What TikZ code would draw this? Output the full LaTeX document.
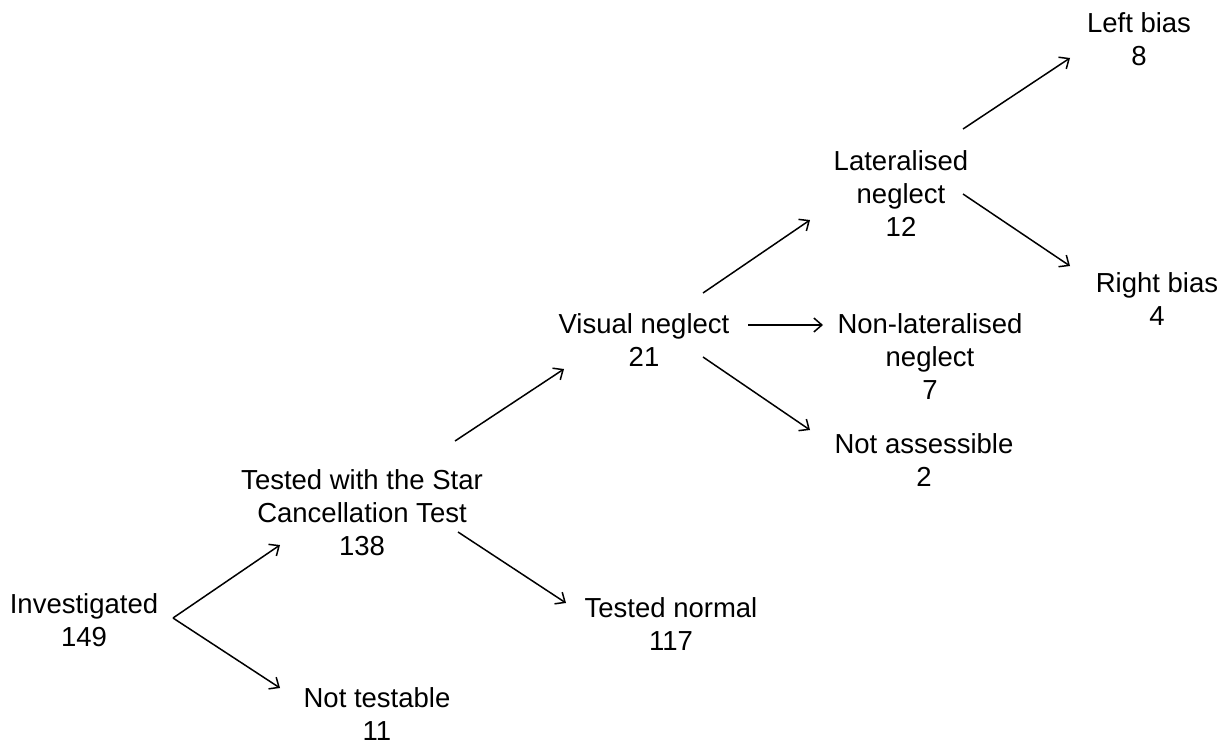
\documentclass[tikz,border=0pt]{standalone}
\usepackage{fontspec}
\setmainfont{Liberation Sans}
\usetikzlibrary{arrows.meta}
\tikzset{
  lbl/.style={anchor=base, inner sep=0pt, font=\fontsize{27.5}{33}\selectfont},
  arr/.style={-{Straight Barb[length=8pt,width=14pt]}, line width=1.5pt},
}
\newcommand{\stacklines}[1]{\begin{tabular}[t]{@{}c@{}}#1\end{tabular}}
\begin{document}
\begin{tikzpicture}[x=1pt,y=-1pt]
\useasboundingbox (0,0) rectangle (1229,744);
% text blocks
\node[lbl] (inv) at (84,613) {\stacklines{Investigated\\149}};
\node[lbl] (tst) at (362,489) {\stacklines{Tested with the Star\\Cancellation Test\\138}};
\node[lbl] (nt)  at (377,707) {\stacklines{Not testable\\11}};
\node[lbl] (tn)  at (671,617) {\stacklines{Tested normal\\117}};
\node[lbl] (vn)  at (644,333) {\stacklines{Visual neglect\\21}};
\node[lbl] (nl)  at (930,333) {\stacklines{Non-lateralised\\neglect\\7}};
\node[lbl] (na)  at (924,453) {\stacklines{Not assessible\\2}};
\node[lbl] (lat) at (901,170) {\stacklines{Lateralised\\neglect\\12}};
\node[lbl] (lb)  at (1139,32) {\stacklines{Left bias\\8}};
\node[lbl] (rb)  at (1157,292) {\stacklines{Right bias\\4}};
% connector ends
\coordinate (invOut) at (173,618);
\coordinate (tstIn)  at (280,545);
\coordinate (ntIn)   at (280,688);
\coordinate (tstUp)  at (455,441);
\coordinate (vnIn)   at (564,369);
\coordinate (tstDn)  at (458,532);
\coordinate (tnIn)   at (566,603);
\coordinate (vnUp)   at (703,293);
\coordinate (latIn)  at (810,220);
\coordinate (vnRt)   at (748,325);
\coordinate (nlIn)   at (823,325);
\coordinate (vnDn)   at (703,357);
\coordinate (naIn)   at (810,430);
\coordinate (latUp)  at (963,129);
\coordinate (lbIn)   at (1070,58);
\coordinate (latDn)  at (963,194);
\coordinate (rbIn)   at (1070,266);
% connectors
\draw[arr] (invOut) -- (tstIn);
\draw[arr] (invOut) -- (ntIn);
\draw[arr] (tstUp) -- (vnIn);
\draw[arr] (tstDn) -- (tnIn);
\draw[arr] (vnUp) -- (latIn);
\draw[arr] (vnRt) -- (nlIn);
\draw[arr] (vnDn) -- (naIn);
\draw[arr] (latUp) -- (lbIn);
\draw[arr] (latDn) -- (rbIn);
\end{tikzpicture}
\end{document}
